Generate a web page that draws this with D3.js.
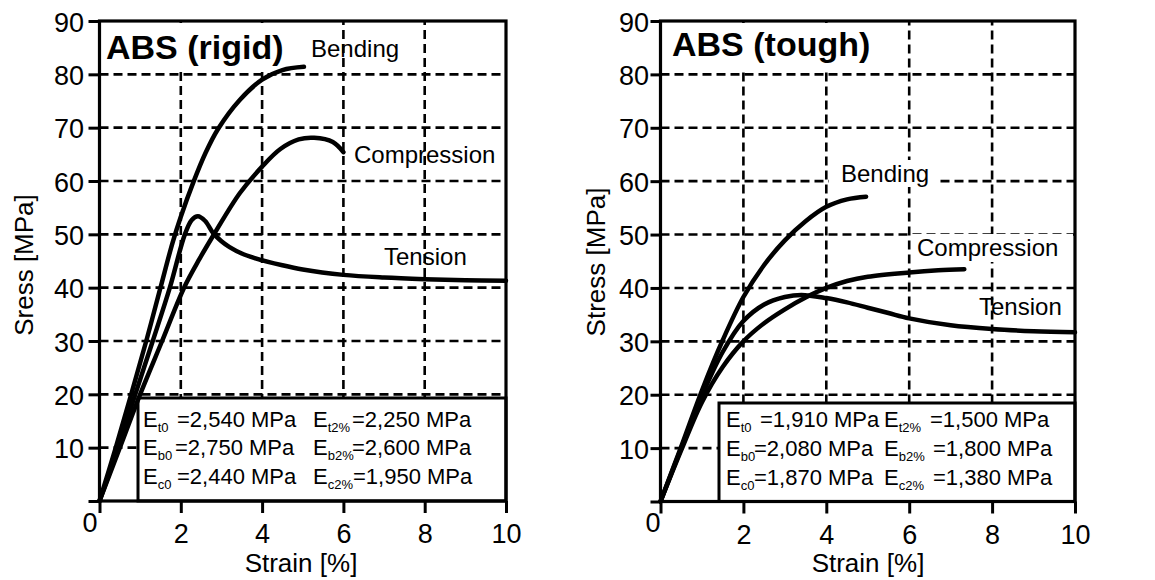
<!DOCTYPE html>
<html><head><meta charset="utf-8">
<script src="https://cdn.jsdelivr.net/npm/d3@7"></script>
<style>
body{margin:0;background:#fff;}
svg text{font-family:"Liberation Sans",Arial,Helvetica,sans-serif;fill:#000;}
</style>
</head><body>
<svg id="chart" width="1155" height="580"></svg>
<script>
// ---------- data ----------
const strainTicks = [0, 2, 4, 6, 8, 10];
const stressTicks = [0, 10, 20, 30, 40, 50, 60, 70, 80, 90];
const strainGrid = [2, 4, 6, 8];
const stressGrid = [10, 20, 30, 40, 50, 60, 70, 80];
const seriesNames = ["Bending", "Compression", "Tension"];

// ABS (rigid)  [strain %, stress MPa]
const rigidBending = [[0,0],[0.4,10],[0.78,20],[1.15,30],[1.5,40],[1.8,48.5],[2.0,53.3],[2.31,59.8],[2.61,65.3],[2.92,69.8],[3.45,75.2],[4.0,79.0],[4.5,80.8],[5.03,81.4]];
const rigidCompression = [[0,0],[0.5,10],[1.0,20],[1.54,30],[2.08,40],[2.46,45.4],[2.84,50.3],[3.45,57.7],[4.0,62.7],[4.45,66.0],[4.9,67.8],[5.28,68.1],[5.74,67.3],[6.0,65.4]];
const rigidTension = [[0,0],[0.46,10],[0.88,20],[1.31,30],[1.73,40],[2.1,50],[2.27,52.7],[2.42,53.4],[2.6,52.5],[2.8,50.2],[3.0,48.7],[3.2,47.6],[3.5,46.4],[3.8,45.6],[4.5,44.2],[5,43.4],[6,42.4],[7,41.9],[8,41.6],[9,41.4],[10,41.3]];

// ABS (tough)
const toughBending = [[0,0],[0.5,10.3],[1.0,20.8],[1.5,30.2],[2.0,38.3],[2.5,44.3],[3.0,48.9],[3.5,52.5],[4.0,55.2],[4.5,56.6],[4.96,57.1]];
const toughCompression = [[0,0],[0.5,9.6],[1.0,18.6],[1.5,25.2],[2.0,30.0],[2.5,33.4],[3.0,36.0],[3.5,38.2],[4.0,40.0],[4.5,41.3],[5,42.1],[6,42.9],[6.7,43.3],[7.33,43.5]];
const toughTension = [[0,0],[0.5,10],[1.0,19.8],[1.5,28.0],[2.0,33.8],[2.5,36.9],[3.0,38.3],[3.4,38.7],[4.0,38.1],[4.5,37.3],[5,36.3],[5.5,35.3],[6,34.3],[7,33.0],[8,32.3],[9,31.9],[10,31.7]];

// moduli box text [subscript, value]
const rigidModuliCol1 = [["t0","=2,540 MPa"],["b0","=2,750 MPa"],["c0","=2,440 MPa"]];
const rigidModuliCol2 = [["t2%","=2,250 MPa"],["b2%","=2,600 MPa"],["c2%","=1,950 MPa"]];
const toughModuliCol1 = [["t0","=1,910 MPa"],["b0","=2,080 MPa"],["c0","=1,870 MPa"]];
const toughModuliCol2 = [["t2%","=1,500 MPa"],["b2%","=1,800 MPa"],["c2%","=1,380 MPa"]];

// ---------- layout ----------
const panels = [
  {
    title: "ABS (rigid)", ylabel: "Sress [MPa]",
    x0: 99.5, x1: 506, y0: 501, y1: 21,
    series: [rigidBending, rigidCompression, rigidTension],
    titlePos: [106, 59], titleBg: [102, 23, 188, 49],
    ylabPos: [33, 265], xlabPos: [301, 572], zeroPos: [90, 532], ytickGap: 15.5, ytickLen: 11,
    labels: [[311, 56.5], [354, 163], [384, 265]],
    labelBg: [null, null, null],
    box: [138, 398, 506, 501],
    col1: rigidModuliCol1, col2: rigidModuliCol2,
    ex: [143, 313], eqx: [[177, 175, 177], [352, 352, 353]], rows: [426.5, 455, 484]
  },
  {
    title: "ABS (tough)", ylabel: "Stress [MPa]",
    x0: 660.5, x1: 1075, y0: 501.5, y1: 21,
    series: [toughBending, toughCompression, toughTension],
    titlePos: [672, 56], titleBg: [668, 23, 200, 49],
    ylabPos: [605, 262], xlabPos: [868, 572], zeroPos: [653, 532], ytickGap: 11.5, ytickLen: 10,
    labels: [[841, 181.5], [917, 256], [979, 315]],
    labelBg: [[829, 160, 108, 27], [911, 234, 162, 28], null],
    box: [719, 403, 1075, 501.5],
    col1: toughModuliCol1, col2: toughModuliCol2,
    ex: [726, 884], eqx: [[760, 754, 754], [930, 933, 933]], rows: [427, 455.5, 484.5]
  }
];

const svg = d3.select("#chart");
svg.append("rect").attr("width",1155).attr("height",580).attr("fill","#fff");

panels.forEach(p => {
  const x = d3.scaleLinear().domain([0,10]).range([p.x0, p.x1]);
  const y = d3.scaleLinear().domain([0,90]).range([p.y0, p.y1]);
  const g = svg.append("g");

  // grid
  g.selectAll(".hg").data(stressGrid).enter().append("line")
    .attr("x1", x(0)).attr("x2", x(10)).attr("y1", d=>y(d)).attr("y2", d=>y(d))
    .attr("stroke","#000").attr("stroke-width",2.6).attr("stroke-dasharray","9,5");
  g.selectAll(".vg").data(strainGrid).enter().append("line")
    .attr("y1", y(0)).attr("y2", y(90)).attr("x1", d=>x(d)).attr("x2", d=>x(d))
    .attr("stroke","#000").attr("stroke-width",2.6).attr("stroke-dasharray","9,5");

  // title with white backing
  g.append("rect").attr("x",p.titleBg[0]).attr("y",p.titleBg[1]).attr("width",p.titleBg[2]).attr("height",p.titleBg[3]).attr("fill","#fff");
  g.append("text").attr("x",p.titlePos[0]).attr("y",p.titlePos[1])
    .attr("font-size",34).attr("font-weight","bold").text(p.title);

  // series labels
  seriesNames.forEach((n,i) => {
    const bg = p.labelBg[i];
    if (bg) g.append("rect").attr("x",bg[0]).attr("y",bg[1]).attr("width",bg[2]).attr("height",bg[3]).attr("fill","#fff");
    g.append("text").attr("x",p.labels[i][0]).attr("y",p.labels[i][1]).attr("font-size",24).text(n);
  });

  // moduli box
  const b = p.box;
  g.append("rect").attr("x",b[0]).attr("y",b[1]).attr("width",b[2]-b[0]).attr("height",b[3]-b[1])
    .attr("fill","#fff").attr("stroke","#000").attr("stroke-width",3);
  [p.col1, p.col2].forEach((col,ci) => {
    col.forEach((r,ri) => {
      const t = g.append("text").attr("font-size",22);
      t.append("tspan").attr("x",p.ex[ci]).attr("y",p.rows[ri]).text("E");
      t.append("tspan").attr("font-size",13).attr("y",p.rows[ri]+5).text(r[0]);
      t.append("tspan").attr("x",p.eqx[ci][ri]).attr("y",p.rows[ri]).text(r[1]);
    });
  });

  // curves
  const line = d3.line().x(d=>x(d[0])).y(d=>y(d[1])).curve(d3.curveCatmullRom.alpha(0.5));
  g.selectAll(".curve").data(p.series).enter().append("path")
    .attr("d", line).attr("fill","none").attr("stroke","#000")
    .attr("stroke-width",4.5).attr("stroke-linecap","round").attr("stroke-linejoin","round");

  // axes
  const gx = g.append("g").attr("transform",`translate(0,${y(0)})`)
    .call(d3.axisBottom(x).tickValues(strainTicks).tickSize(12).tickFormat(d => d===0 ? "" : d));
  gx.select(".domain").remove();
  gx.selectAll(".tick line").attr("stroke","#000").attr("stroke-width",3);
  gx.selectAll(".tick text").attr("y",42).attr("dy",null).attr("font-size",27)
    .attr("font-family",null).attr("fill","#000");

  const gy = g.append("g").attr("transform",`translate(${x(0)},0)`)
    .call(d3.axisLeft(y).tickValues(stressTicks).tickSize(p.ytickLen).tickFormat(d => d===0 ? "" : d));
  gy.select(".domain").remove();
  gy.selectAll(".tick line").attr("stroke","#000").attr("stroke-width",3);
  gy.selectAll(".tick text").attr("x",-p.ytickGap).attr("dy","0.37em").attr("font-size",27)
    .attr("font-family",null).attr("fill","#000");

  // frame
  g.append("rect").attr("x",x(0)).attr("y",y(90)).attr("width",x(10)-x(0)).attr("height",y(0)-y(90))
    .attr("fill","none").attr("stroke","#000").attr("stroke-width",3.2);

  // corner zero
  g.append("text").attr("x",p.zeroPos[0]).attr("y",p.zeroPos[1]).attr("text-anchor","middle")
    .attr("font-size",27).text("0");

  // axis titles
  g.append("text").attr("x",p.xlabPos[0]).attr("y",p.xlabPos[1]).attr("text-anchor","middle")
    .attr("font-size",26).text("Strain [%]");
  g.append("text").attr("transform",`translate(${p.ylabPos[0]},${p.ylabPos[1]}) rotate(-90)`)
    .attr("text-anchor","middle").attr("font-size",26).text(p.ylabel);
});
</script>
</body></html>
